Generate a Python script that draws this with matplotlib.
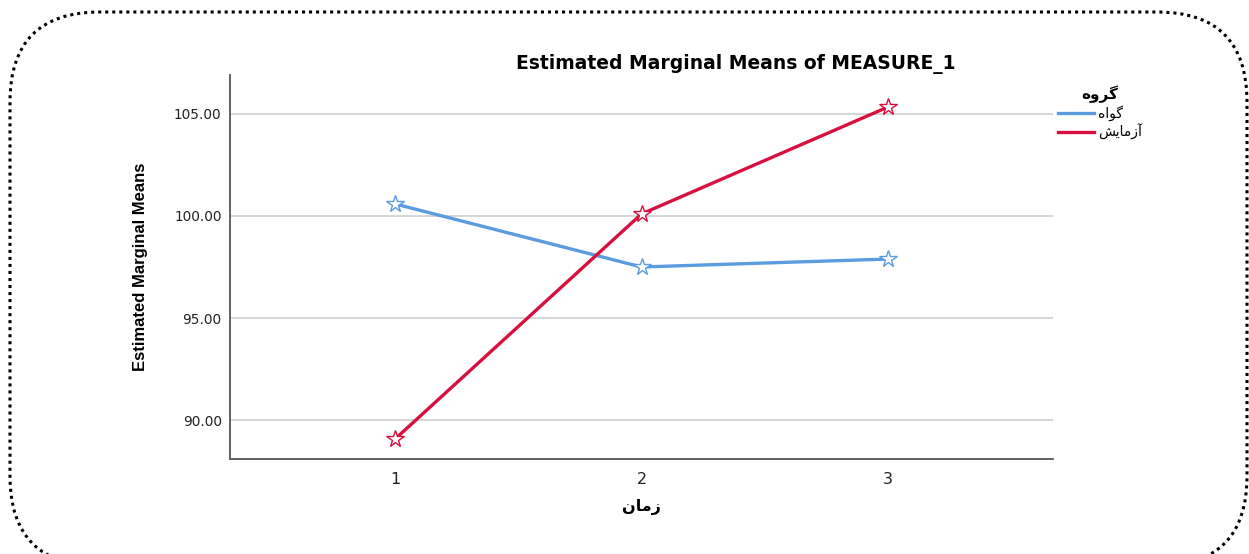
import matplotlib.pyplot as plt
from matplotlib.patches import FancyBboxPatch
from matplotlib.lines import Line2D

# data
times = [1, 2, 3]
control = [100.59, 97.50, 97.89]
experiment = [89.07, 100.10, 105.34]
yticks = [90, 95, 100, 105]

# persian labels, pre-shaped (presentation forms, visual order)
lbl_group = "\uFEE9\uFEED\uFEAE\uFB94"          # گروه
lbl_control = "\uFEE9\uFE8D\uFEEE\uFB94"        # گواه
lbl_exp = "\uFEB6\uFBFE\uFE8E\uFEE3\uFEAF\uFE81"  # آزمایش
lbl_time = "\uFEE5\uFE8E\uFEE3\uFEAF"           # زمان

blue = '#5b9be0'
red = '#d7103f'

W, H = 1249, 554
fig = plt.figure(figsize=(W / 100, H / 100), dpi=100)

# dotted rounded frame
frame = FancyBboxPatch((10 / W, 1 - 566 / H), 1237 / W, 554 / H,
                       boxstyle="round,pad=0,rounding_size=0.072",
                       transform=fig.transFigure, fill=False,
                       edgecolor='black', linestyle=(0, (1, 1.3)), lw=2.2,
                       mutation_aspect=W / H)
fig.patches.append(frame)

ax = fig.add_axes([230 / W, 1 - 459 / H, 823 / W, 384 / H])

ax.plot(times, control, color=blue, lw=2.4, marker='*', ms=13,
        mfc='white', mec=blue, mew=1.0, zorder=3)
ax.plot(times, experiment, color=red, lw=2.4, marker='*', ms=13,
        mfc='white', mec=red, mew=1.0, zorder=3)

ax.set_xlim(0.33, 3.67)
ax.set_ylim(88.09, 106.91)
ax.set_xticks(times)
ax.set_yticks(yticks)
ax.set_yticklabels([f'{v:.2f}' for v in yticks])
ax.tick_params(length=0, labelsize=9.8, colors='#222222', pad=6)
ax.tick_params(axis='x', labelsize=11.5, pad=9)
for t in ax.get_xticklabels() + ax.get_yticklabels():
    t.set_family('DejaVu Sans')

ax.grid(axis='y', color='#cccccc', lw=1.1)
ax.set_axisbelow(True)
for s in ['top', 'right']:
    ax.spines[s].set_visible(False)
for s in ['left', 'bottom']:
    ax.spines[s].set_color('#555555')
    ax.spines[s].set_linewidth(1.3)

ax.set_title('Estimated Marginal Means of MEASURE_1', fontsize=13.5,
             fontweight='bold', family='DejaVu Sans', x=0.615, pad=4)
ax.set_ylabel('Estimated Marginal Means', fontsize=12, fontweight='bold',
              family='Liberation Sans', labelpad=19)
ax.set_xlabel(lbl_time, fontsize=11.5, fontweight='bold',
              family='DejaVu Sans', labelpad=9)

handles = [Line2D([], [], color=blue, lw=2.4),
           Line2D([], [], color=red, lw=2.4)]
leg = fig.legend(handles, [lbl_control, lbl_exp], loc='upper left',
                 bbox_to_anchor=(1045 / W, 1 - 73 / H), frameon=False,
                 prop={'family': 'DejaVu Sans', 'size': 10},
                 title=lbl_group, handlelength=2.6, handletextpad=0.3,
                 labelspacing=0.2, alignment='center')
leg.get_title().set_fontweight('bold')
leg.get_title().set_fontsize(11)

fig.savefig('out.png', dpi=100)
